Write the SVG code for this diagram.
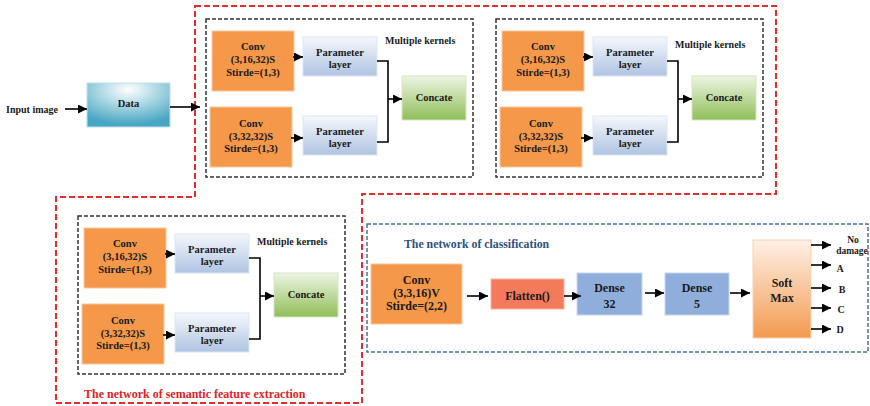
<svg xmlns="http://www.w3.org/2000/svg" width="870" height="406" viewBox="0 0 870 406">
<style>
text{font-family:"Liberation Serif","Times New Roman",serif;font-weight:bold;fill:#1a1a1a}
.t{font-size:10.5px;text-anchor:middle}
.mk{font-size:10px}
.c{font-size:12px;text-anchor:middle}
.o{font-size:10px;text-anchor:middle}
.conv{fill:#F5984A;stroke:#F8C79C;stroke-width:1}
.param{fill:url(#gParam);stroke:#DCE6F2;stroke-width:1}
.concat{fill:url(#gConcat);stroke:#D6E6C4;stroke-width:1}
.frame{fill:none;stroke:#333;stroke-width:1.5;stroke-dasharray:4 2}
.ln{fill:none;stroke:#000;stroke-width:1.6}
.ar{fill:none;stroke:#000;stroke-width:1.6;marker-end:url(#ah)}
</style>
<defs>
<marker id="ah" markerUnits="userSpaceOnUse" markerWidth="9" markerHeight="9" viewBox="0 0 10 10" refX="10" refY="5" orient="auto">
<path d="M0,0 L10,5 L0,10 z" fill="#000"/>
</marker>
<linearGradient id="gParam" x1="0" y1="0" x2="0" y2="1">
<stop offset="0" stop-color="#F5F8FC"/><stop offset="1" stop-color="#AFC3E2"/>
</linearGradient>
<linearGradient id="gConcat" x1="0" y1="0" x2="0" y2="1">
<stop offset="0" stop-color="#EDF5E3"/><stop offset="1" stop-color="#90BE58"/>
</linearGradient>
<linearGradient id="gSoft" x1="0" y1="0" x2="0" y2="1">
<stop offset="0" stop-color="#FDF1E7"/><stop offset="1" stop-color="#F39A4F"/>
</linearGradient>
<radialGradient id="gData" cx="0.5" cy="0.15" r="0.8">
<stop offset="0" stop-color="#FFFFFF"/><stop offset="1" stop-color="#47A6C2"/>
</radialGradient>
</defs>
<rect width="870" height="406" fill="#fff"/>

<!-- outer frames -->
<polygon points="195,6 776,6 776,194 362,194 362,403 56,403 56,197 195,197" fill="none" stroke="#E52B2B" stroke-width="2" stroke-dasharray="6 3"/>
<rect x="367" y="224" width="501" height="128" fill="none" stroke="#4A6FA5" stroke-width="1.5" stroke-dasharray="4 2"/>
<text x="84" y="398" style="font-size:12px;fill:#E02424">The network of semantic feature extraction</text>
<text x="404" y="248" style="font-size:11.8px;fill:#2F4F80">The network of classification</text>

<!-- Input / Data -->
<text id="input-label" x="6" y="113" class="mk">Input image</text>
<g id="data"><rect x="87" y="83" width="83" height="44" fill="url(#gData)" stroke="#BFE0EA" stroke-width="1"/><text x="128.5" y="107" class="t">Data</text></g>

<!-- module 1 -->
<g id="module1">
<rect class="frame" x="206" y="19" width="267" height="158"/>
<g id="m1-conv1"><rect class="conv" x="212" y="31" width="82" height="60"/><text class="t" x="253" y="50">Conv</text><text class="t" x="253" y="63">(3,16,32)S</text><text class="t" x="253" y="76">Stirde=(1,3)</text></g>
<g id="m1-conv2"><rect class="conv" x="210" y="107" width="82" height="60"/><text class="t" x="251" y="127">Conv</text><text class="t" x="251" y="140">(3,32,32)S</text><text class="t" x="251" y="152">Stirde=(1,3)</text></g>
<g id="m1-param1"><rect class="param" x="303" y="37" width="74" height="39"/><text class="t" x="340" y="56">Parameter</text><text class="t" x="340" y="68">layer</text></g>
<g id="m1-param2"><rect class="param" x="303" y="116" width="74" height="39"/><text class="t" x="340" y="135">Parameter</text><text class="t" x="340" y="147">layer</text></g>
<g id="m1-concat"><rect class="concat" x="402" y="76" width="64" height="44"/><text class="t" x="434" y="101">Concate</text></g>
<text class="mk" x="385" y="44">Multiple kernels</text>
</g>

<g id="module2" transform="translate(290,0)">
<rect class="frame" x="206" y="19" width="267" height="158"/>
<g id="m2-conv1"><rect class="conv" x="212" y="31" width="82" height="60"/><text class="t" x="253" y="50">Conv</text><text class="t" x="253" y="63">(3,16,32)S</text><text class="t" x="253" y="76">Stirde=(1,3)</text></g>
<g id="m2-conv2"><rect class="conv" x="210" y="107" width="82" height="60"/><text class="t" x="251" y="127">Conv</text><text class="t" x="251" y="140">(3,32,32)S</text><text class="t" x="251" y="152">Stirde=(1,3)</text></g>
<g id="m2-param1"><rect class="param" x="303" y="37" width="74" height="39"/><text class="t" x="340" y="56">Parameter</text><text class="t" x="340" y="68">layer</text></g>
<g id="m2-param2"><rect class="param" x="303" y="116" width="74" height="39"/><text class="t" x="340" y="135">Parameter</text><text class="t" x="340" y="147">layer</text></g>
<g id="m2-concat"><rect class="concat" x="402" y="76" width="64" height="44"/><text class="t" x="434" y="101">Concate</text></g>
<text class="mk" x="385" y="48">Multiple kernels</text>
</g>

<g id="module3" transform="translate(-128,197)">
<rect class="frame" x="206" y="19" width="267" height="158"/>
<g id="m3-conv1"><rect class="conv" x="212" y="31" width="82" height="60"/><text class="t" x="253" y="50">Conv</text><text class="t" x="253" y="63">(3,16,32)S</text><text class="t" x="253" y="76">Stirde=(1,3)</text></g>
<g id="m3-conv2"><rect class="conv" x="210" y="107" width="82" height="60"/><text class="t" x="251" y="127">Conv</text><text class="t" x="251" y="140">(3,32,32)S</text><text class="t" x="251" y="152">Stirde=(1,3)</text></g>
<g id="m3-param1"><rect class="param" x="303" y="37" width="74" height="39"/><text class="t" x="340" y="56">Parameter</text><text class="t" x="340" y="68">layer</text></g>
<g id="m3-param2"><rect class="param" x="303" y="116" width="74" height="39"/><text class="t" x="340" y="135">Parameter</text><text class="t" x="340" y="147">layer</text></g>
<g id="m3-concat"><rect class="concat" x="402" y="76" width="64" height="44"/><text class="t" x="434" y="101">Concate</text></g>
<text class="mk" x="385" y="48">Multiple kernels</text>
</g>

<!-- classification nodes -->
<g id="cls-conv"><rect class="conv" x="371" y="264" width="91" height="60"/><text class="c" x="416.5" y="284">Conv</text><text class="c" x="416.5" y="297">(3,3,16)V</text><text class="c" x="416.5" y="310">Stirde=(2,2)</text></g>
<g id="flatten"><rect x="491" y="279" width="73" height="30" fill="#F47A5C" stroke="#F9B3A2" stroke-width="1"/><text class="c" x="527.5" y="300">Flatten()</text></g>
<g id="dense32"><rect x="577" y="273" width="65" height="42" fill="#8FAEDC" stroke="#C5D5EE" stroke-width="1"/><text class="c" x="609.5" y="292">Dense</text><text class="c" x="609.5" y="308">32</text></g>
<g id="dense5"><rect x="665" y="273" width="64" height="42" fill="#8FAEDC" stroke="#C5D5EE" stroke-width="1"/><text class="c" x="697" y="292">Dense</text><text class="c" x="697" y="308">5</text></g>
<g id="softmax"><rect x="753" y="240" width="58" height="98" fill="url(#gSoft)" stroke="#F9D2B2" stroke-width="1"/><text class="c" x="782" y="287">Soft</text><text class="c" x="782" y="302">Max</text></g>
<g id="outputs">
<text class="o" x="853" y="243" style="font-size:9.5px">No</text><text class="o" x="852" y="254" style="font-size:9.5px">damage</text>
<text class="o" x="840" y="272">A</text>
<text class="o" x="842" y="293">B</text>
<text class="o" x="841" y="313">C</text>
<text class="o" x="840" y="333">D</text>
</g>

<!-- connectors -->
<g id="connectors">
<path class="ar" d="M65,109 H87"/>
<path class="ar" d="M170,107 H200"/>
<g transform="translate(0,0)">
<path class="ar" d="M293,57 H303"/><path class="ar" d="M291,138 H303"/>
<path class="ln" d="M377,61 H388 V142 H377"/><path class="ar" d="M388,99 H402"/>
</g>
<g transform="translate(290,0)">
<path class="ar" d="M293,57 H303"/><path class="ar" d="M291,138 H303"/>
<path class="ln" d="M377,61 H388 V142 H377"/><path class="ar" d="M388,99 H402"/>
</g>
<g transform="translate(-128,197)">
<path class="ar" d="M293,57 H303"/><path class="ar" d="M291,138 H303"/>
<path class="ln" d="M377,61 H388 V142 H377"/><path class="ar" d="M388,99 H402"/>
</g>
<path class="ar" d="M467,296 H488"/>
<path class="ar" d="M564,296 H581"/>
<path class="ar" d="M645,293 H664"/>
<path class="ar" d="M730,293 H750"/>
<path class="ar" d="M811,245 H831"/>
<path class="ar" d="M811,265 H831"/>
<path class="ar" d="M811,288 H831"/>
<path class="ar" d="M811,308 H831"/>
<path class="ar" d="M811,329 H831"/>
</g>
</svg>
